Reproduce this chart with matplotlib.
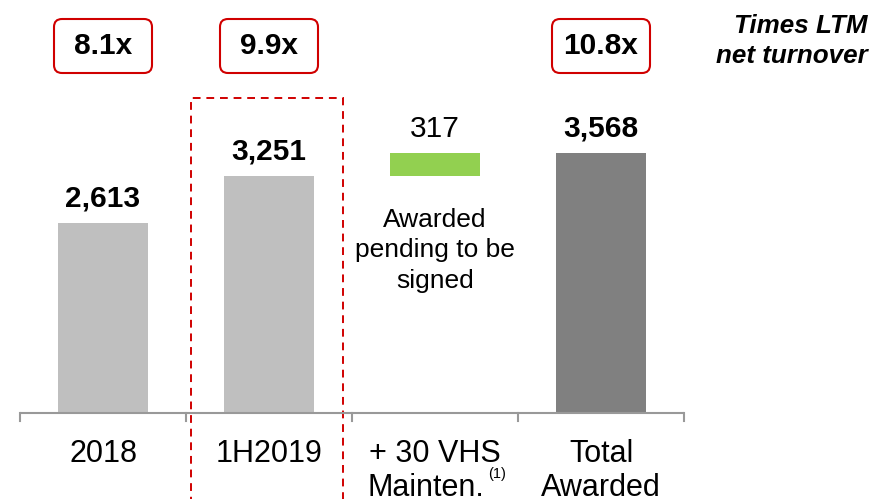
import matplotlib
matplotlib.use("Agg")
import matplotlib.pyplot as plt
from matplotlib.patches import FancyBboxPatch, Rectangle

plt.rcParams['font.family'] = ['Liberation Sans', 'DejaVu Sans']

categories = ['2018', '1H2019', '+ 30 VHS\nMainten.', 'Total\nAwarded']
footnote = [None, None, '(1)', None]
values = [2613, 3251, 317, 3568]
bases = [0, 0, 3251, 0]
value_labels = ['2,613', '3,251', '317', '3,568']
label_bold = [True, True, False, True]
bar_colors = ['#BFBFBF', '#BFBFBF', '#92D050', '#808080']
multiples = ['8.1x', '9.9x', None, '10.8x']

RED = '#D00000'
DPI = 100
fig = plt.figure(figsize=(8.75, 4.99), dpi=DPI)
ax = fig.add_axes([0, 0, 1, 1])
ax.set_xlim(-0.6205, 4.6506)
ax.set_ylim(-1181, 5673)
ax.axis('off')

x = list(range(len(categories)))
ax.bar(x, values, bottom=bases, width=0.54, color=bar_colors)

# value labels
for i in x:
    top = bases[i] + values[i]
    ax.annotate(value_labels[i], (i, top), xytext=(0, 12), textcoords='offset points',
                ha='center', va='baseline', fontsize=21.5,
                fontweight='bold' if label_bold[i] else 'normal')

ax.text(2, bases[2] - 430, 'Awarded\npending to be\nsigned', ha='center', va='top',
        fontsize=19, linespacing=1.36)

# axis line and ticks
ax.plot([-0.5, 3.5], [0, 0], color='#999999', lw=1.5, solid_capstyle='butt')
for t in [-0.5, 0.5, 1.5, 2.5, 3.5]:
    ax.plot([t, t], [0, -110], color='#999999', lw=1.5)

fig.canvas.draw()
r = fig.canvas.get_renderer()
for i, c in enumerate(categories):
    lines = c.split('\n')
    if footnote[i] is None:
        ax.text(i, -360, c, ha='center', va='top', fontsize=22, linespacing=1.15)
        continue
    # last line carries a small superscript; center line + marker together
    ax.text(i, -360, lines[0], ha='center', va='top', fontsize=22)
    last = ax.annotate(lines[1], (i, -360), xytext=(0, -24), textcoords='offset points',
                       ha='center', va='top', fontsize=22)
    sup = ax.annotate(footnote[i], (i, -360), xytext=(0, -20), textcoords='offset points',
                      ha='left', va='top', fontsize=10.5)
    w1 = last.get_window_extent(r).width
    w2 = sup.get_window_extent(r).width
    shift = w2 / 2 * 72 / DPI
    last.set_position((-shift, -24))
    sup.set_position((w1 / 2 * 72 / DPI - shift + 2.5, -20))

# dashed highlight around 1H2019
ax.add_patch(Rectangle((0.53, -1400), 0.916, 4327 + 1400, fill=False,
                       edgecolor=RED, lw=1.4, linestyle=(0, (4, 3))))

# multiple boxes (pixel layout)
H = fig.get_size_inches()[1] * DPI
for i, m in enumerate(multiples):
    if m is None:
        continue
    px, _ = ax.transData.transform((i, 0))
    cy = H - 46
    ax.add_patch(FancyBboxPatch((px - 49 + 8, cy - 27 + 8), 98 - 16, 54 - 16,
                                boxstyle='round,pad=8', transform=None,
                                facecolor='white', edgecolor=RED, lw=1.5))
    ax.text(px, cy, m, transform=None, ha='center', va='center',
            fontsize=21.5, fontweight='bold')

ax.text(0.992, 0.918, 'Times LTM\nnet turnover', transform=ax.transAxes,
        ha='right', va='center', fontsize=18.7, fontweight='bold', style='italic',
        linespacing=1.35)

fig.savefig('out.png', dpi=DPI)
